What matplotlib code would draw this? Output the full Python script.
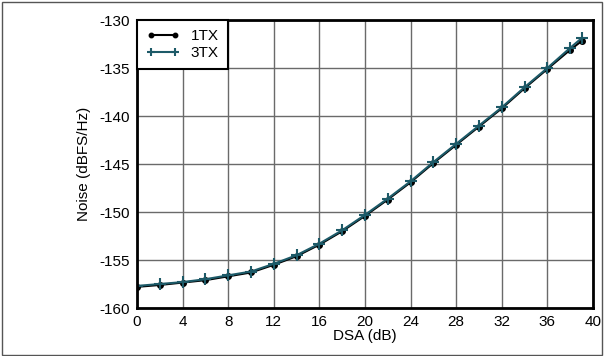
import matplotlib
matplotlib.use('Agg')
import matplotlib.pyplot as plt
from matplotlib.patches import Rectangle

plt.rcParams['font.family'] = ['Liberation Sans', 'DejaVu Sans']
plt.rcParams['axes.unicode_minus'] = False

# DSA setting (dB)
dsa = [0, 2, 4, 6, 8, 10, 12, 14, 16, 18, 20, 22, 24, 26, 28, 30, 32, 34, 36, 38, 39]
# Noise (dBFS/Hz)
noise_1tx = [-157.8, -157.6, -157.35, -157.1, -156.7, -156.3, -155.5, -154.6, -153.4, -152.0,
             -150.4, -148.7, -146.9, -144.9, -143.0, -141.1, -139.2, -137.1, -135.1, -133.1, -132.2]
noise_3tx = [-157.7, -157.5, -157.3, -157.0, -156.6, -156.2, -155.4, -154.5, -153.3, -151.9,
             -150.3, -148.6, -146.8, -144.8, -142.9, -141.0, -139.1, -137.0, -135.0, -132.9, -131.9]

fig = plt.figure(figsize=(6.04, 3.56), dpi=100)
fig.patches.append(Rectangle((0.003, 0.003), 0.993, 0.99, transform=fig.transFigure,
                             fill=False, edgecolor='#555555', linewidth=1))
ax = fig.add_axes([137 / 604, 48 / 356, 456 / 604, 288 / 356])

ax.plot(dsa, noise_1tx, color='black', marker='o', markersize=4, linewidth=1.5, label='1TX')
ax.plot(dsa, noise_3tx, color='#1d5a68', marker='+', markersize=8, markeredgewidth=1.5,
        linewidth=1.5, label='3TX')

ax.set_xlim(0, 40)
ax.set_ylim(-160, -130)
ax.set_xticks(range(0, 41, 4))
ax.set_yticks(range(-160, -129, 5))
ax.grid(True, color='#6a6a6a', linewidth=1)
ax.tick_params(length=0, labelsize=11, pad=5)
for s in ax.spines.values():
    s.set_linewidth(2)
ax.set_xlabel('DSA (dB)', fontsize=11, labelpad=0)
ax.set_ylabel('Noise (dBFS/Hz)', fontsize=11, labelpad=6)

leg = ax.legend(loc='upper left', fontsize=11, borderaxespad=0, fancybox=False,
                framealpha=1, edgecolor='black', handlelength=2.2, borderpad=0.6,
                labelspacing=0.2, markerscale=0.8, handletextpad=0.7, numpoints=2)
leg.get_frame().set_linewidth(1.5)

plt.savefig('out.png', dpi=100)
